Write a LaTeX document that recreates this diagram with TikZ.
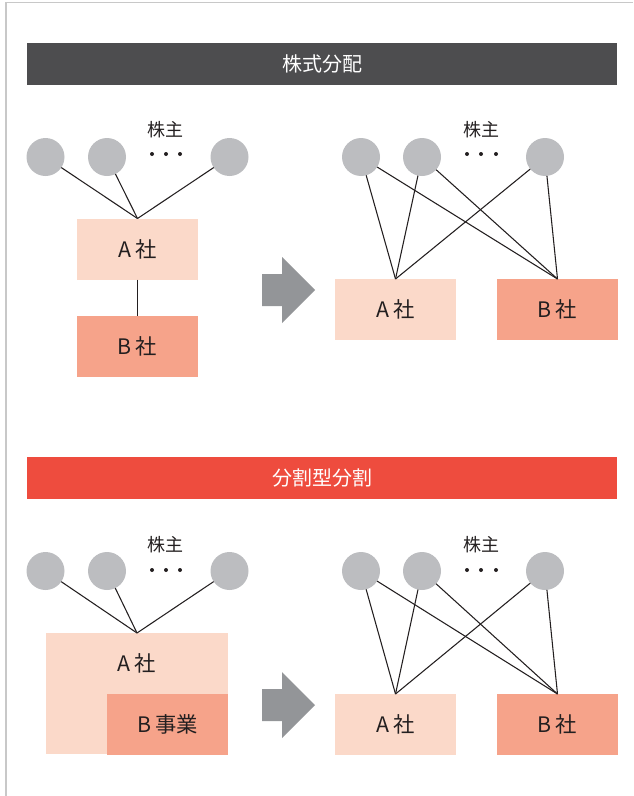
\documentclass[tikz,border=0pt]{standalone}
\usepackage{fontspec}
\setmainfont{Noto Sans CJK JP}
\definecolor{lightA}{HTML}{FBD9C9}
\definecolor{darkB}{HTML}{F6A38A}
\definecolor{barDark}{HTML}{4D4D4F}
\definecolor{barRed}{HTML}{EE4C3E}
\definecolor{circ}{HTML}{BCBDC0}
\definecolor{arrowGray}{HTML}{939598}
\definecolor{ink}{HTML}{231F20}
\definecolor{frameGray}{HTML}{C8C8C8}
\begin{document}
\begin{tikzpicture}[x=0.75pt,y=-0.75pt,
  holder/.style={circle,fill=circ,minimum size=28.5pt,inner sep=0pt,outer sep=0pt},
  cobox/.style={rectangle,inner sep=0pt,outer sep=0pt,minimum width=90.75pt,minimum height=45.75pt,text=ink,font=\fontsize{16}{19}\selectfont},
  abox/.style={cobox,fill=lightA},
  bbox/.style={cobox,fill=darkB},
  bar/.style={rectangle,inner sep=0pt,outer sep=0pt,minimum width=442.5pt,minimum height=31.5pt,text=white,font=\fontsize{15}{18}\selectfont},
  lbl/.style={text=ink,inner sep=0pt,font=\fontsize{13.5}{16}\selectfont},
  dotmark/.style={circle,fill=ink,inner sep=0pt,minimum size=3pt},
  link/.style={draw=ink,line width=0.8pt},
  bigarrow/.style={fill=arrowGray}
]
\useasboundingbox (0,0) rectangle (633,796);
% frame
\draw[frameGray,line width=1.1pt] (6,796) -- (6,2.5) -- (633,2.5);

% ===== Section 1 =====
\node[bar,fill=barDark] (bar1) at (322,64) {株式分配};

% left
\node[holder] (l1) at (45.5,157) {};
\node[holder] (l2) at (107,157) {};
\node[holder] (l3) at (229.5,157) {};
\node[lbl] (lk1) at (165,130) {株主};
\node[dotmark] (ld1) at (152,154) {};
\node[dotmark] (ld2) at (166,154) {};
\node[dotmark] (ld3) at (180,154) {};
\node[abox] (la) at (137.5,249) {A\hspace{0.2em}社};
\node[bbox] (lb) at (137.5,346.5) {B\hspace{0.2em}社};
\draw[link] (l1) -- (la.north);
\draw[link] (l2) -- (la.north);
\draw[link] (l3) -- (la.north);
\draw[link] (la.south) -- (lb.north);

% arrow
\fill[bigarrow] (262,274) -- (282,274) -- (282,257) -- (315,290) -- (282,323) -- (282,306) -- (262,306) -- cycle;

% right
\node[holder] (r1) at (361,157) {};
\node[holder] (r2) at (422,157) {};
\node[holder] (r3) at (545,157) {};
\node[lbl] (rk1) at (481,130) {株主};
\node[dotmark] (rd1) at (467,154) {};
\node[dotmark] (rd2) at (481,154) {};
\node[dotmark] (rd3) at (496,154) {};
\node[abox] (ra) at (395.5,309.5) {A\hspace{0.2em}社};
\node[bbox] (rb) at (557.5,309.5) {B\hspace{0.2em}社};
\foreach \c in {r1,r2,r3}{
  \draw[link] (\c) -- (ra.north);
  \draw[link] (\c) -- (rb.north);
}

% ===== Section 2 =====
\node[bar,fill=barRed] (bar2) at (322,478) {分割型分割};

% left
\node[holder] (m1) at (45.5,571) {};
\node[holder] (m2) at (107,571) {};
\node[holder] (m3) at (229.5,571) {};
\node[lbl] (mk1) at (165,545) {株主};
\node[dotmark] (md1) at (152,570) {};
\node[dotmark] (md2) at (166,570) {};
\node[dotmark] (md3) at (180,570) {};
\node[rectangle,fill=lightA,inner sep=0pt,outer sep=0pt,minimum width=136.5pt,minimum height=90.75pt] (ma) at (137,693.5) {};
\node[text=ink,inner sep=0pt,font=\fontsize{16}{19}\selectfont] (mat) at (137,663) {A\hspace{0.2em}社};
\node[bbox] (mb) at (167.5,724.5) {B\hspace{0.2em}事業};
\draw[link] (m1) -- (ma.north);
\draw[link] (m2) -- (ma.north);
\draw[link] (m3) -- (ma.north);

% arrow
\fill[bigarrow] (262,689) -- (282,689) -- (282,672) -- (315,705) -- (282,738) -- (282,721) -- (262,721) -- cycle;

% right
\node[holder] (s1) at (361,571) {};
\node[holder] (s2) at (422,571) {};
\node[holder] (s3) at (545,571) {};
\node[lbl] (sk1) at (481,545) {株主};
\node[dotmark] (sd1) at (467,570) {};
\node[dotmark] (sd2) at (481,570) {};
\node[dotmark] (sd3) at (496,570) {};
\node[abox] (sa) at (395.5,724.5) {A\hspace{0.2em}社};
\node[bbox] (sb) at (557.5,724.5) {B\hspace{0.2em}社};
\foreach \c in {s1,s2,s3}{
  \draw[link] (\c) -- (sa.north);
  \draw[link] (\c) -- (sb.north);
}
\end{tikzpicture}
\end{document}
